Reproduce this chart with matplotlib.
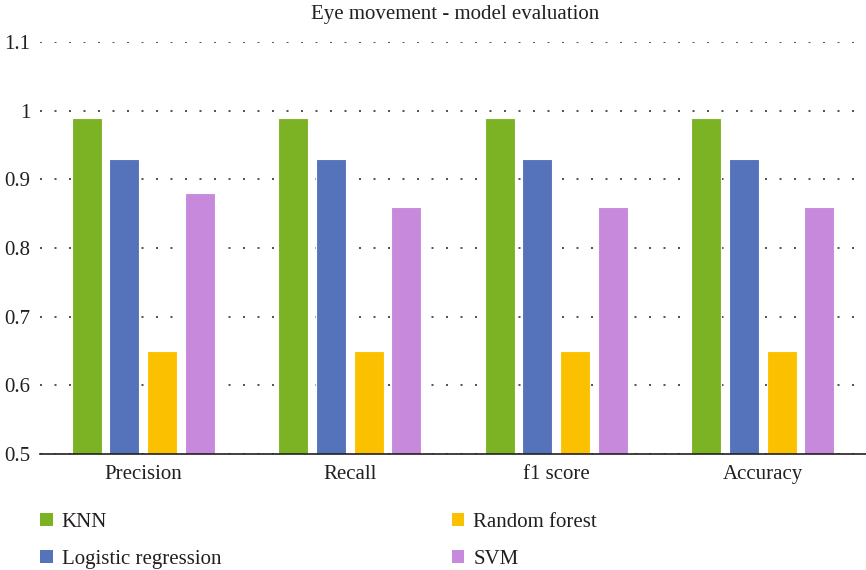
import matplotlib.pyplot as plt
import numpy as np
from matplotlib.patches import Patch

categories = ["Precision", "Recall", "f1 score", "Accuracy"]
models = ["KNN", "Logistic regression", "Random forest", "SVM"]
knn = [0.99, 0.99, 0.99, 0.99]
logreg = [0.93, 0.93, 0.93, 0.93]
rforest = [0.65, 0.65, 0.65, 0.65]
svm = [0.88, 0.86, 0.86, 0.86]
series = [knn, logreg, rforest, svm]
colors = ["#7cb325", "#5473bb", "#fbc100", "#c689dc"]
yticks = [0.5, 0.6, 0.7, 0.8, 0.9, 1.0, 1.1]
ytick_labels = ["0.5", "0.6", "0.7", "0.8", "0.9", "1", "1.1"]

plt.rcParams['font.family'] = ['Liberation Serif', 'DejaVu Serif']

fig = plt.figure(figsize=(8.66, 5.70), dpi=100)
ax = fig.add_axes([40 / 866, (570 - 454) / 570, 826 / 866, (454 - 42) / 570])

x = np.arange(len(categories))
step = 0.182
width = 0.145
for i, (vals, col) in enumerate(zip(series, colors)):
    ax.bar(x + (i - 1.5) * step, vals, width=width, color=col,
           edgecolor="#ffffff", linewidth=0.8, zorder=3,
           label=models[i])

ax.set_xlim(-0.5, len(categories) - 0.5)
ax.set_ylim(0.5, 1.1)
ax.set_yticks(yticks)
ax.set_yticklabels(ytick_labels)
ax.set_xticks(x)
ax.set_xticklabels(categories)
ax.tick_params(axis='both', length=0, labelsize=15, colors="#231f20")
ax.tick_params(axis='y', pad=7)
ax.tick_params(axis='x', pad=8)
ax.yaxis.grid(True, linestyle=(0, (1.2, 7.5)), color="#333333", linewidth=1.2, zorder=0)
for s in ["top", "right", "left"]:
    ax.spines[s].set_visible(False)
ax.spines["bottom"].set_color("#231f20")
ax.spines["bottom"].set_linewidth(1.2)
ax.spines["bottom"].set_zorder(4)

fig.text(455 / 866, 1 - 15 / 570, "Eye movement - model evaluation",
         ha="center", va="center", fontsize=15, color="#231f20")

handles = [Patch(facecolor=c, edgecolor="none") for c in colors]
leg = fig.legend(handles, models,
                 ncol=2, loc="upper left", bbox_to_anchor=(40 / 866, 1 - 513 / 570),
                 frameon=False, fontsize=15, handlelength=0.6, handleheight=0.6,
                 handletextpad=0.45, columnspacing=11.05, labelspacing=0.85,
                 borderaxespad=0, borderpad=0)
for t in leg.get_texts():
    t.set_color("#231f20")

fig.savefig("out.png", dpi=100)
